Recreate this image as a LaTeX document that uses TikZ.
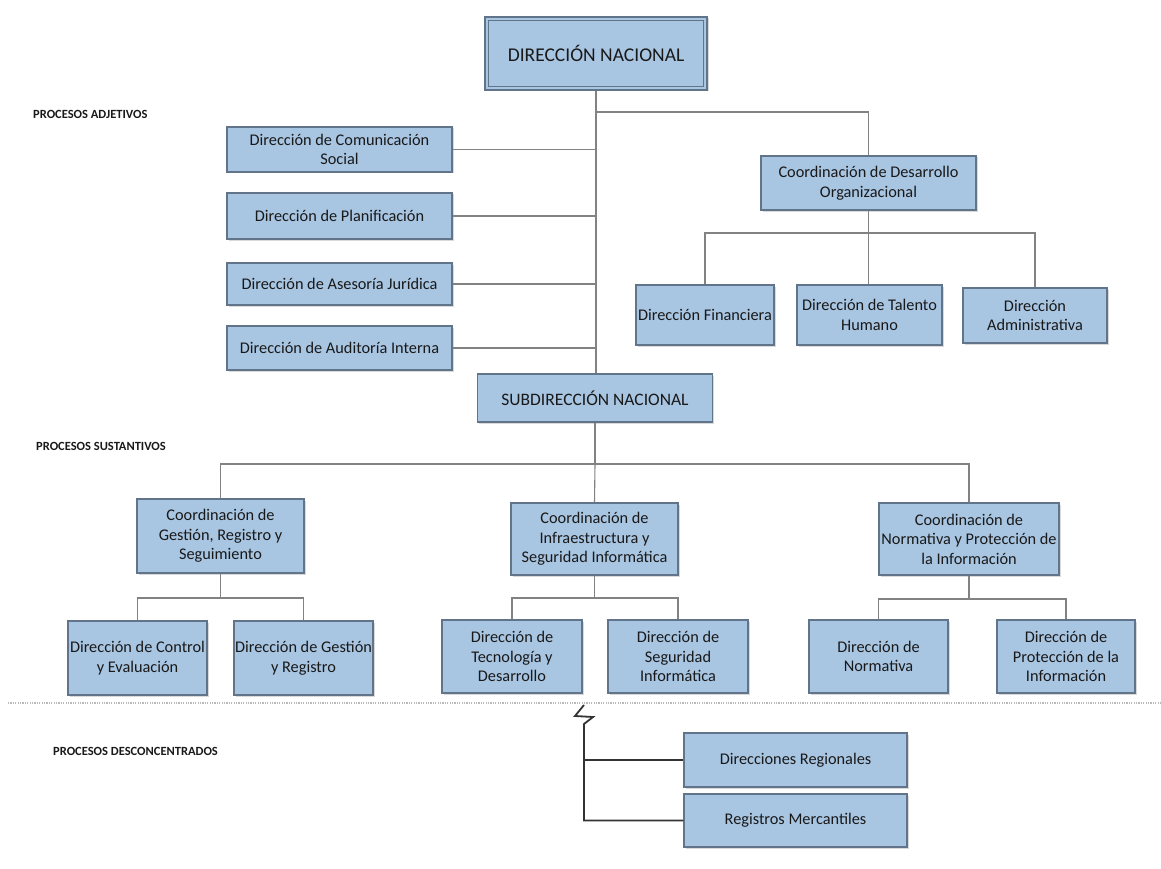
\documentclass[tikz,border=0pt]{standalone}
\usepackage{fontspec}
\setmainfont{Carlito}
\usetikzlibrary{shadows,calc}
\definecolor{boxfill}{RGB}{168,197,226}
\definecolor{boxline}{RGB}{98,116,138}
\definecolor{txt}{RGB}{25,25,25}
\definecolor{conn}{RGB}{130,130,130}
\tikzset{
  orgbox/.style={draw=boxline, line width=1.1pt, fill=boxfill, inner sep=0pt, align=center,
    text=txt, font=\fontsize{16.3}{19.5}\selectfont,
    drop shadow={shadow xshift=1.5pt, shadow yshift=-1.5pt, opacity=0.3, fill=gray}},
  bigbox/.style={orgbox, font=\fontsize{19.5}{22}\selectfont},
  innerframe/.style={draw=boxline, line width=0.9pt},
  subbox/.style={orgbox, font=\fontsize{17.5}{20}\selectfont},
  link/.style={draw=conn, line width=1.1pt},
  darklink/.style={draw=black!80, line width=1.8pt},
  proclabel/.style={anchor=west, inner sep=0pt, font=\bfseries\fontsize{12.5}{14}\selectfont, text=txt},
  sep/.style={draw=gray!55, line width=1.6pt, dash pattern=on 1.2pt off 1.2pt}
}
\begin{document}
\begin{tikzpicture}[x=1pt,y=-1pt]
\useasboundingbox (0,0) rectangle (1161,869);

% nodes
\node[bigbox, minimum width=222pt, minimum height=73pt] (dn) at (596,53.5) {DIRECCIÓN NACIONAL};
\draw[innerframe] ($(dn.north west)+(4,4)$) rectangle ($(dn.south east)+(-4,-4)$);
\node[orgbox, minimum width=225pt, minimum height=45pt] (com) at (339.5,149.5) {Dirección de Comunicación\\Social};
\node[orgbox, minimum width=225pt, minimum height=46pt] (pla) at (339.5,216) {Dirección de Planificación};
\node[orgbox, minimum width=225pt, minimum height=42pt] (ase) at (339.5,284) {Dirección de Asesoría Jurídica};
\node[orgbox, minimum width=225pt, minimum height=44pt] (aud) at (339.5,348) {Dirección de Auditoría Interna};

\node[orgbox, minimum width=215pt, minimum height=54pt] (cdo) at (868.5,183) {Coordinación de Desarrollo\\Organizacional};
\node[orgbox, minimum width=138pt, minimum height=60pt] (fin) at (705,315) {Dirección Financiera};
\node[orgbox, minimum width=145pt, minimum height=60pt] (tal) at (869.5,315) {Dirección de Talento\\Humano};
\node[orgbox, minimum width=144pt, minimum height=55pt] (adm) at (1035,315.5) {Dirección\\Administrativa};

\node[subbox, minimum width=235pt, minimum height=48pt] (sub) at (595,398) {SUBDIRECCIÓN NACIONAL};

\node[orgbox, minimum width=167pt, minimum height=74pt] (cgr) at (220.5,536) {Coordinación de\\Gestión, Registro y\\Seguimiento};
\node[orgbox, minimum width=167pt, minimum height=72pt] (cis) at (594.5,539) {Coordinación de\\Infraestructura y\\Seguridad Informática};
\node[orgbox, minimum width=180pt, minimum height=72pt] (cnp) at (969,539) {Coordinación de\\Normativa y Protección de\\la Información};

\node[orgbox, minimum width=139pt, minimum height=74pt] (dce) at (137.5,658) {Dirección de Control\\y Evaluación};
\node[orgbox, minimum width=139pt, minimum height=74pt] (dgr) at (303.5,658) {Dirección de Gestión\\y Registro};
\node[orgbox, minimum width=140pt, minimum height=73pt] (dtd) at (512,656.5) {Dirección de\\Tecnología y\\Desarrollo};
\node[orgbox, minimum width=140pt, minimum height=73pt] (dsi) at (678,656.5) {Dirección de\\Seguridad\\Informática};
\node[orgbox, minimum width=139pt, minimum height=73pt] (dno) at (878.5,656.5) {Dirección de\\Normativa};
\node[orgbox, minimum width=138pt, minimum height=73pt] (dpi) at (1066,656.5) {Dirección de\\Protección de la\\Información};

\node[orgbox, minimum width=223pt, minimum height=54pt] (dre) at (795.5,760) {Direcciones Regionales};
\node[orgbox, minimum width=223pt, minimum height=53pt] (rme) at (795.5,820.5) {Registros Mercantiles};

% labels
\node[proclabel] (la) at (33,114) {PROCESOS ADJETIVOS};
\node[proclabel] (ls) at (36,446) {PROCESOS SUSTANTIVOS};
\node[proclabel] (ld) at (53,751) {PROCESOS DESCONCENTRADOS};

% junctions
\coordinate (j1) at (596,112);
\coordinate (j2) at (868.5,233);
\coordinate (j3) at (595,464);
\coordinate (j4) at (220.5,598);
\coordinate (j5) at (594.5,598);
\coordinate (j6) at (969,599);
\coordinate (lz) at (584,705);

% connectors
\draw[link] (dn.south) -- (dn.south |- sub.north);
\draw[link] (j1) -| (cdo.north);
\draw[link] (com.east) -- (com.east -| dn.south);
\draw[link] (pla.east) -- (pla.east -| dn.south);
\draw[link] (ase.east) -- (ase.east -| dn.south);
\draw[link] (aud.east) -- (aud.east -| dn.south);

\draw[link] (cdo.south) -- (j2);
\draw[link] (fin.north) |- (j2) -| (adm.north);
\draw[link] (j2) -- (j2 |- tal.north);

\draw[link] (sub.south) -- (j3);
\draw[link] (cgr.north) |- (j3) -| (cnp.north);
\draw[link] (j3) -- (cis.north);

\draw[link] (cgr.south) -- (j4);
\draw[link] (dce.north) |- (j4) -| (dgr.north);
\draw[link] (cis.south) -- (j5);
\draw[link] (dtd.north) |- (j5) -| (dsi.north);
\draw[link] (cnp.south) -- (j6);
\draw[link] (dno.north) |- (j6) -| (dpi.north);

% separator
\draw[sep] (8,703) -- (1161,703);

% desconcentrados
\draw[darklink, line join=miter] (lz) -- ++(-9,11) -- ++(18,1) -- ++(-9,7) |- (rme.west);
\draw[darklink] (lz |- dre.west) -- (dre.west);

\end{tikzpicture}
\end{document}
